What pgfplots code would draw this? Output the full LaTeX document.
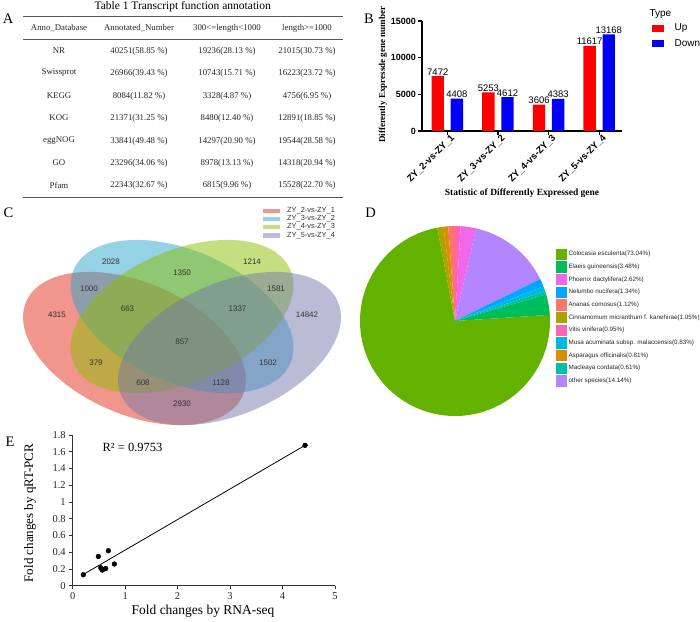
\documentclass[border=0pt]{standalone}
\usepackage{fontspec}
\setmainfont{Liberation Serif}
\setsansfont{Liberation Sans}
\usepackage{pgfplots}
\pgfplotsset{compat=1.18}

\definecolor{upred}{RGB}{250,0,0}
\definecolor{downblue}{RGB}{0,0,250}
% venn sets (drawn half transparent)
\definecolor{vA}{RGB}{225,45,25}
\definecolor{vB}{RGB}{45,165,205}
\definecolor{vC}{RGB}{140,189,0}
\definecolor{vD}{RGB}{115,121,169}
% pie, ggplot hue palette
\definecolor{pAnanas}{HTML}{F8766D}
\definecolor{pAsparagus}{HTML}{DB8E00}
\definecolor{pCinnamomum}{HTML}{AEA200}
\definecolor{pColocasia}{HTML}{64B200}
\definecolor{pElaeis}{HTML}{00BD5C}
\definecolor{pMacleaya}{HTML}{00C1A7}
\definecolor{pMusa}{HTML}{00BADE}
\definecolor{pNelumbo}{HTML}{00A6FF}
\definecolor{pOther}{HTML}{B385FF}
\definecolor{pPhoenix}{HTML}{EF67EB}
\definecolor{pVitis}{HTML}{FF63B6}

\newcommand{\fs}[1]{\fontsize{#1}{#1}\selectfont}
% pie slice: colour, percent before it, its percent (clockwise from 12 o'clock)
\newcommand{\slice}[3]{\fill[#1] (axis cs:0,0) -- ++({90-3.6*(#2)}:95pt)
  arc[start angle={90-3.6*(#2)}, delta angle={-3.6*(#3)}, radius=95pt] -- cycle;}

\begin{document}
\begin{tikzpicture}

%% ---------- A: table ----------
\begin{scope}[x=1pt,y=-1pt]
\path[use as bounding box] (0,0) rectangle (700,620);
\node[font=\fs{11.5}] at (182.7,7) {Table 1 Transcript function annotation};
\node[font=\fs{14.5}] at (8,18.5) {A};
\draw[line width=0.9pt, black!65] (23,16) -- (343,16);
\draw[line width=0.6pt, black!65] (23,39) -- (343,39);
\draw[line width=0.9pt, black!65] (23,197.5) -- (343,197.5);
\begin{scope}[every node/.style={font=\fs{8.8}, text=black!85}]
\node at (59,28) {Anno\_Database};
\node at (139,28) {Annotated\_Number};
\node at (227,28) {300<=length<1000};
\node at (307,28) {length>=1000};
\foreach \y/\a/\b/\c/\d in {
  51/NR/40251(58.85 \%)/19236(28.13 \%)/21015(30.73 \%),
  73/Swissprot/26966(39.43 \%)/10743(15.71 \%)/16223(23.72 \%),
  96/KEGG/8084(11.82 \%)/3328(4.87 \%)/4756(6.95 \%),
  118/KOG/21371(31.25 \%)/8480(12.40 \%)/12891(18.85 \%),
  141/eggNOG/33841(49.48 \%)/14297(20.90 \%)/19544(28.58 \%),
  163/GO/23296(34.06 \%)/8978(13.13 \%)/14318(20.94 \%),
  185/Pfam/22343(32.67 \%)/6815(9.96 \%)/15528(22.70 \%)}{
  \node at (59,\y) {\a};
  \node at (139,\y) {\b};
  \node at (227,\y) {\c};
  \node at (307,\y) {\d};
}
\end{scope}

%% panel letters
\node[font=\fs{14.5}] at (369,18.5) {B};
\node[font=\fs{14.5}] at (8.5,213) {C};
\node[font=\fs{14.5}] at (370.5,213) {D};
\node[font=\fs{14.5}] at (10,442) {E};

%% B legend
\node[font=\sffamily\fs{10}, anchor=west] at (646,14) {Type};
\fill[upred] (652,25) rectangle (664,32);
\node[font=\sffamily\fs{10}, anchor=west] at (671,28.5) {Up};
\fill[downblue] (652,40) rectangle (664,47);
\node[font=\sffamily\fs{10}, anchor=west] at (671,43.5) {Down};

%% C legend
\foreach \y/\c/\t in {211/vA/ZY\_2-vs-ZY\_1, 219/vB/ZY\_3-vs-ZY\_2,
    227/vC/ZY\_4-vs-ZY\_3, 235.5/vD/ZY\_5-vs-ZY\_4}{
  \fill[\c, fill opacity=0.5] (263,\y-2.4) rectangle (280,\y+2.4);
  \node[font=\sffamily\fs{7.4}, text=black!80, anchor=west, inner sep=0pt] at (287,\y) {\t};
}

%% D legend
\foreach \y/\c/\t in {
  254.3/pColocasia/Colocasia esculenta(73.04\%),
  267.0/pElaeis/Elaeis guineensis(3.48\%),
  279.6/pPhoenix/Phoenix dactylifera(2.62\%),
  292.3/pNelumbo/Nelumbo nucifera(1.34\%),
  305.0/pAnanas/Ananas comosus(1.12\%),
  317.6/pCinnamomum/Cinnamomum micranthum f. kanehirae(1.05\%),
  330.3/pVitis/Vitis vinifera(0.95\%),
  343.0/pMusa/Musa acuminata subsp. malaccensis(0.83\%),
  355.6/pAsparagus/Asparagus officinalis(0.81\%),
  368.3/pMacleaya/Macleaya cordata(0.61\%),
  381.0/pOther/other species(14.14\%)}{
  \fill[\c] (556,\y-5.8) rectangle (566.7,\y+5.8);
  \node[font=\sffamily\fs{6.3}, text=black!85, anchor=west, inner sep=0pt] at (568.3,\y) {\t};
}
\end{scope}

%% ---------- B: DEG bars ----------
\begin{axis}[
  at={(422pt,-131pt)}, anchor=south west,
  scale only axis, width=200pt, height=110pt,
  xmin=0.5, xmax=4.45, ymin=0, ymax=15000,
  enlargelimits=false,
  axis lines=left,
  axis line style={-, line width=1.2pt},
  tick align=outside, major tick length=4pt,
  tick style={line width=1.2pt, black},
  xtick={1,2,3,4},
  xticklabels={ZY\_2-vs-ZY\_1, ZY\_3-vs-ZY\_2, ZY\_4-vs-ZY\_3, ZY\_5-vs-ZY\_4},
  x tick label style={rotate=45, anchor=north east, font=\bfseries\sffamily\fs{9.5}, inner sep=1pt, xshift=4pt},
  ytick={0,5000,10000,15000},
  scaled y ticks=false,
  y tick label style={font=\bfseries\sffamily\fs{9}, inner sep=2pt},
  /pgf/number format/1000 sep={},
  /pgf/number format/assume math mode=true,
  xlabel={Statistic of Differently Expressed gene},
  ylabel={Differently Expressde gene number},
  every axis x label/.style={at={(axis description cs:0.5,-0.5636)}, anchor=center, font=\bfseries\fs{9.5}},
  every axis y label/.style={at={(axis description cs:-0.195,0.51)}, anchor=center, rotate=90, font=\bfseries\fs{9}},
  ybar=6.7pt, bar width=12.4pt,
  nodes near coords,
  every node near coord/.append style={font=\sffamily\fs{9.5}, inner sep=0.8pt},
  clip=false,
]
\addplot[fill=upred, draw=none] coordinates {(1,7472) (2,5253) (3,3606) (4,11617)};
\addplot[fill=downblue, draw=none] coordinates {(1,4408) (2,4612) (3,4383) (4,13168)};
\end{axis}

%% ---------- C: Venn ----------
\begin{axis}[
  at={(0pt,-190pt)}, anchor=north west,
  scale only axis, width=360pt, height=240pt,
  xmin=0, xmax=360, ymin=190, ymax=430, y dir=reverse,
  hide axis, clip=false,
]
\fill[vA, fill opacity=0.5, rotate around={-23.4:(axis cs:134.5,348.5)}]
  (axis cs:134.5,348.5) ellipse [x radius=118pt, y radius=66pt];
\fill[vB, fill opacity=0.5, rotate around={-23.4:(axis cs:182,316.5)}]
  (axis cs:182,316.5) ellipse [x radius=118pt, y radius=66pt];
\fill[vC, fill opacity=0.5, rotate around={23.4:(axis cs:182,316.5)}]
  (axis cs:182,316.5) ellipse [x radius=118pt, y radius=66pt];
\fill[vD, fill opacity=0.5, rotate around={23.4:(axis cs:229.5,348.5)}]
  (axis cs:229.5,348.5) ellipse [x radius=118pt, y radius=66pt];
\addplot[draw=none, mark=none, point meta=explicit symbolic, nodes near coords,
  every node near coord/.style={anchor=center, font=\sffamily\fs{8}, text=black!80}]
  coordinates {(111,262)[2028] (252,262)[1214] (182,273)[1350] (89,289)[1000]
    (276,289)[1581] (57,315)[4315] (127.5,309)[663] (237.5,309)[1337] (307,315)[14842]
    (182,342)[857] (96,363)[379] (268,363)[1502] (143,383)[608] (221,383)[1128] (182,404)[2930]};
\end{axis}

%% ---------- D: species pie ----------
\begin{axis}[
  at={(455pt,-321pt)}, anchor=center,
  scale only axis, width=190pt, height=190pt,
  xmin=-95, xmax=95, ymin=-95, ymax=95,
  hide axis, clip=false,
]
\slice{pVitis}{0}{0.95}
\slice{pPhoenix}{0.95}{2.62}
\slice{pOther}{3.57}{14.14}
\slice{pNelumbo}{17.71}{1.34}
\slice{pMusa}{19.05}{0.83}
\slice{pMacleaya}{19.88}{0.61}
\slice{pElaeis}{20.49}{3.48}
\slice{pColocasia}{23.97}{73.04}
\slice{pCinnamomum}{97.01}{1.05}
\slice{pAsparagus}{98.06}{0.81}
\slice{pAnanas}{98.87}{1.13}
\end{axis}

%% ---------- E: qRT-PCR vs RNA-seq ----------
\begin{axis}[
  at={(72.7pt,-585.7pt)}, anchor=south west,
  scale only axis, width=262.3pt, height=150.7pt,
  xmin=0, xmax=5, ymin=0, ymax=1.8,
  axis lines=left,
  axis line style={-, black!80, line width=0.7pt},
  tick align=outside, major tick length=3.5pt,
  tick style={black!80, line width=0.7pt},
  xtick={0,1,2,3,4,5},
  ytick={0,0.2,0.4,0.6,0.8,1,1.2,1.4,1.6,1.8},
  /pgf/number format/assume math mode=true,
  ticklabel style={font=\fs{10.5}, text=black!85},
  xlabel={Fold changes by RNA-seq},
  ylabel={Fold changes by qRT-PCR},
  every axis x label/.style={at={(axis description cs:0.497,-0.1725)}, anchor=center, font=\fs{13.5}},
  every axis y label/.style={at={(axis description cs:-0.163,0.482)}, anchor=center, rotate=90, font=\fs{13}},
  clip=false,
]
\addplot[black, line width=0.8pt] coordinates {(0.203,0.135) (4.416,1.672)};
\addplot[only marks, mark=*, mark size=2.4pt, black] coordinates {
  (0.203,0.131) (0.489,0.350) (0.680,0.418) (0.794,0.259)
  (0.534,0.215) (0.566,0.187) (0.629,0.205) (0.555,0.200) (4.430,1.677)};
\node[font=\fs{12.5}] at (axis cs:1.14,1.648) {R² = 0.9753};
\end{axis}

\end{tikzpicture}
\end{document}
